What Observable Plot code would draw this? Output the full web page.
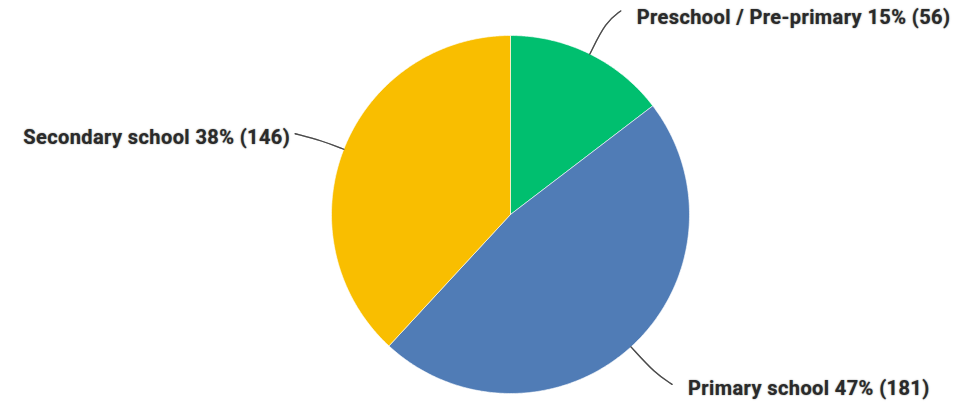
<!DOCTYPE html>
<html>
<head>
<meta charset="utf-8">
<script src="https://cdn.jsdelivr.net/npm/d3@7"></script>
<script src="https://cdn.jsdelivr.net/npm/@observablehq/plot@0.6"></script>
<style>
  html, body { margin: 0; padding: 0; background: #fff; }
  #chart svg { display: block; }
  #chart g[aria-label="text"] text { text-shadow: 0 0 1.5px rgba(0,0,0,0.55); letter-spacing: 0.4px; }
  #chart g.leader path { filter: drop-shadow(0 0 0.6px rgba(0,0,0,0.35)); }
</style>
</head>
<body>
<div id="chart"></div>
<script>
// ---- data ----
const categories = ["Preschool / Pre-primary", "Primary school", "Secondary school"];
const counts = [56, 181, 146];
const percents = [15, 47, 38];
const colors = ["#00BF6F", "#507CB6", "#F9BE00"];

// ---- layout (not data) ----
const W = 966, H = 404;
const R = 179;            // radius in px
const CX = 510, CY = 214; // centre in px
// leader shape per slice: elbow radius (units), end offset from elbow (px), label offset from end (px), anchor
const leaderLayout = [
  {elbowR: 1.2,  endDx: 15,  endDy: -11, textDx: 16, textDy: 7, anchor: "start"},
  {elbowR: 1.2,  endDx: 17,  endDy: 11,  textDx: 16, textDy: 4, anchor: "start"},
  {elbowR: 1.13, endDx: -27, endDy: -7,  textDx: -5, textDy: 4, anchor: "end"}
];

const pie = d3.pie().sort(null).value(d => d.count);
const rows = categories.map((c, i) => ({cat: c, count: counts[i], pct: percents[i]}));
const arcs = pie(rows);

// slice outlines (geometry from pie angles)
const slicePts = [];
arcs.forEach(a => {
  const cat = a.data.cat;
  slicePts.push({cat, x: 0, y: 0});
  const n = Math.max(2, Math.ceil((a.endAngle - a.startAngle) / (Math.PI / 360)));
  for (let k = 0; k <= n; k++) {
    const t = a.startAngle + (a.endAngle - a.startAngle) * k / n;
    slicePts.push({cat, x: Math.sin(t), y: Math.cos(t)});
  }
  slicePts.push({cat, x: 0, y: 0});
});

// leaders and labels
const leaderPts = [];
const labels = [];
arcs.forEach((a, i) => {
  const L = leaderLayout[i];
  const m = (a.startAngle + a.endAngle) / 2;
  const e = {x: Math.sin(m), y: Math.cos(m)};
  const el = {x: L.elbowR * Math.sin(m), y: L.elbowR * Math.cos(m)};
  const en = {x: el.x + L.endDx / R, y: el.y - L.endDy / R};
  const cat = a.data.cat;
  leaderPts.push({cat, ...e}, {cat, ...el}, {cat, ...en});
  labels.push({
    text: `${cat} ${a.data.pct}% (${a.data.count})`,
    x: en.x + L.textDx / R,
    y: en.y - L.textDy / R,
    anchor: L.anchor
  });
});

const textOpts = anchor => ({
  x: "x", y: "y", text: "text",
  textAnchor: anchor,
  fill: "#2a2a2a",
  fontSize: 20,
  fontWeight: 700,
  fontFamily: "Roboto, 'Noto Sans', sans-serif"
});

const chart = Plot.plot({
  width: W,
  height: H,
  margin: 0,
  x: {domain: [-CX / R, (W - CX) / R], axis: null},
  y: {domain: [-(H - CY) / R, CY / R], axis: null},
  color: {domain: categories, range: colors},
  marks: [
    Plot.line(slicePts, {x: "x", y: "y", z: "cat", fill: "cat", stroke: "#ffffff", strokeWidth: 0.6, curve: "linear"}),
    Plot.line(leaderPts, {x: "x", y: "y", z: "cat", stroke: "#4a4a4a", strokeWidth: 1.3, curve: "basis", className: "leader"}),
    Plot.text(labels.filter(d => d.anchor === "start"), textOpts("start")),
    Plot.text(labels.filter(d => d.anchor === "end"), textOpts("end"))
  ]
});
document.getElementById("chart").appendChild(chart);
</script>
</body>
</html>
